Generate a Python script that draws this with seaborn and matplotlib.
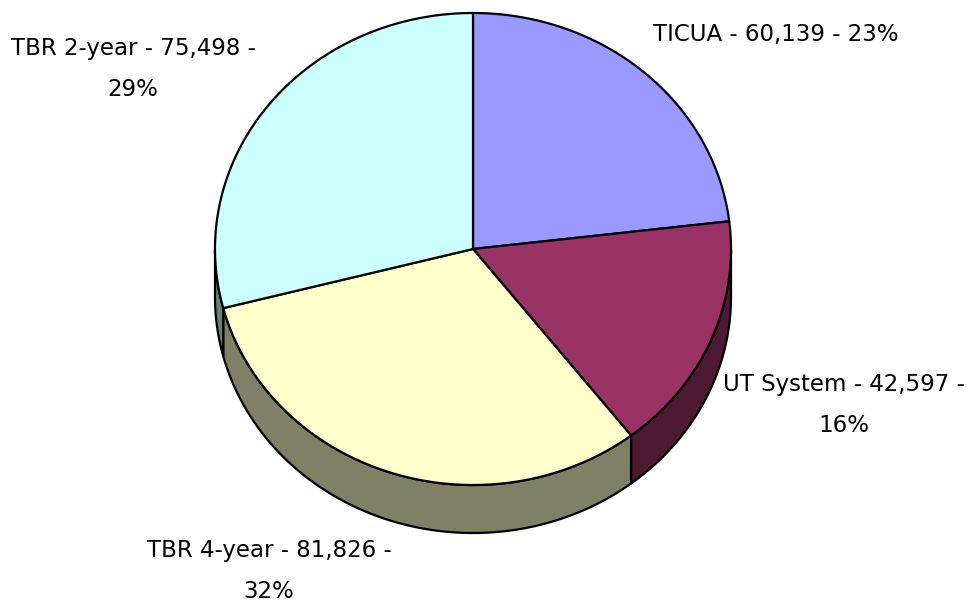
import numpy as np
import matplotlib
matplotlib.use("Agg")
import matplotlib.pyplot as plt
from matplotlib.patches import Polygon
import seaborn as sns

# data, clockwise from 12 o'clock
labels = ['TICUA', 'UT System', 'TBR 4-year', 'TBR 2-year']
values = [60139, 42597, 81826, 75498]
pct_labels = ['23%', '16%', '32%', '29%']   # as printed on the chart
colors = ['#9999FF', '#993366', '#FFFFCC', '#CCFFFF']

# label text positions (pixel coords) and whether the percent goes on line 2
label_pos = [(776, 34), (844, 405), (269, 571), (133, 69)]
two_lines = [False, True, True, True]

sns.set_style("white")
plt.rcParams['font.family'] = ['DejaVu Sans']

# pie geometry in pixel units
cx, cy = 473, 249
rx, ry = 258, 236
depth = 48


def darken(c, f=0.5):
    rgb = np.array(matplotlib.colors.to_rgb(c))
    return tuple(rgb * f)


def arc(t0, t1, n=200):
    t = np.linspace(t0, t1, n)
    return cx + rx * np.sin(t), cy - ry * np.cos(t)


fig = plt.figure(figsize=(9.69, 6.04), dpi=100)
ax = fig.add_axes([0, 0, 1, 1])
ax.set_xlim(0, 969)
ax.set_ylim(604, 0)
ax.axis('off')

fracs = np.array(values) / np.sum(values)
edges = np.concatenate([[0], np.cumsum(fracs)]) * 2 * np.pi

# side walls (only the front half, t between pi/2 and 3pi/2)
for i in range(len(values)):
    a0 = max(edges[i], np.pi / 2)
    a1 = min(edges[i + 1], 3 * np.pi / 2)
    if a1 <= a0:
        continue
    xs, ys = arc(a0, a1)
    px = np.concatenate([xs, xs[::-1]])
    py = np.concatenate([ys, ys[::-1] + depth])
    ax.add_patch(Polygon(np.column_stack([px, py]), closed=True,
                         facecolor=darken(colors[i]), edgecolor='black',
                         linewidth=1.6, joinstyle='round'))

# top faces
for i in range(len(values)):
    xs, ys = arc(edges[i], edges[i + 1])
    px = np.concatenate([[cx], xs])
    py = np.concatenate([[cy], ys])
    ax.add_patch(Polygon(np.column_stack([px, py]), closed=True,
                         facecolor=colors[i], edgecolor='black',
                         linewidth=1.6, joinstyle='round'))

# labels
for i in range(len(values)):
    sep = "\n" if two_lines[i] else " "
    txt = f"{labels[i]} - {values[i]:,} -{sep}{pct_labels[i]}"
    x, y = label_pos[i]
    ax.text(x, y, txt, ha='center', va='center', fontsize=16.5,
            linespacing=2.0, color='black')

fig.savefig('out.png', dpi=100)
